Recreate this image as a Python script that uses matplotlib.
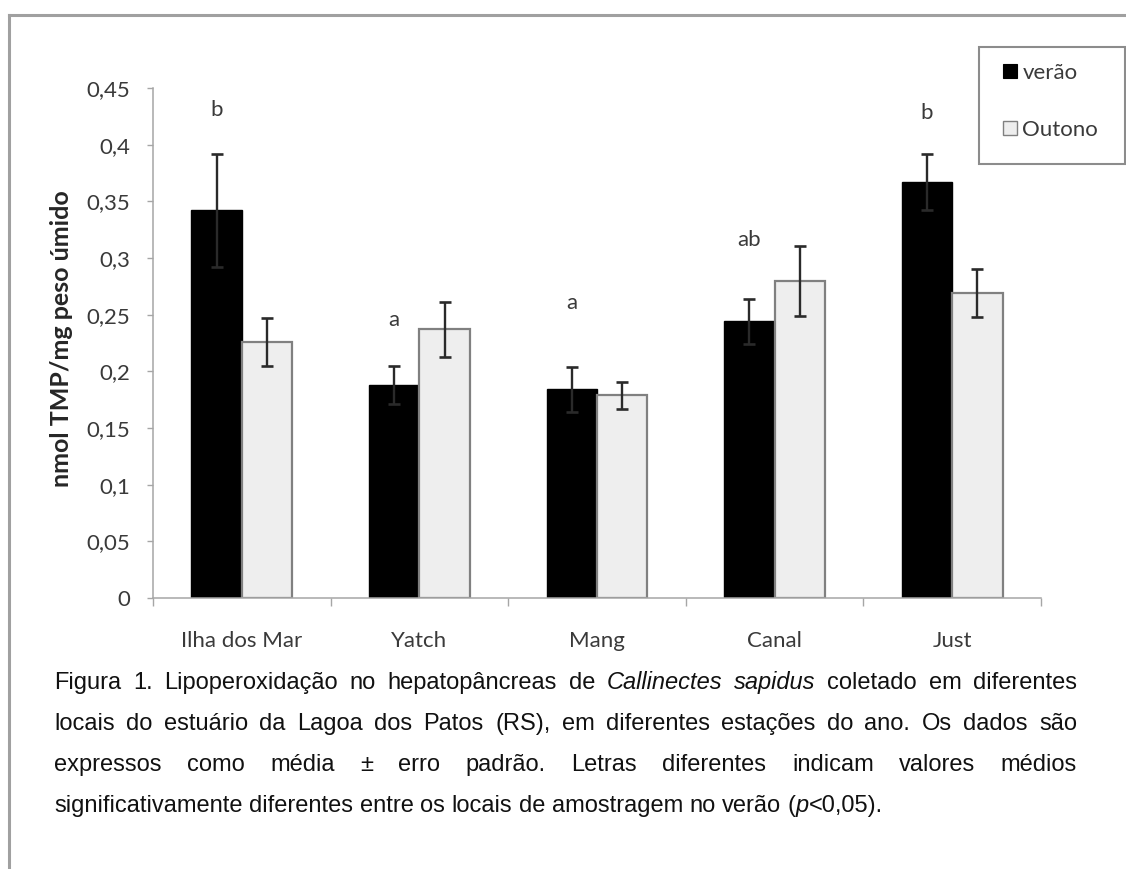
import matplotlib
matplotlib.use("Agg")
import matplotlib.pyplot as plt
import numpy as np
from matplotlib.patches import Patch, Rectangle
from matplotlib.lines import Line2D
from matplotlib.transforms import IdentityTransform

# ---------------- data ----------------
categories = ["Ilha dos Mar", "Yatch", "Mang", "Canal", "Just"]
verao = [0.342, 0.188, 0.184, 0.244, 0.367]
verao_err = [0.050, 0.017, 0.020, 0.020, 0.025]
outono = [0.226, 0.237, 0.179, 0.280, 0.269]
outono_err = [0.021, 0.024, 0.012, 0.031, 0.021]
letters = ["b", "a", "a", "ab", "b"]
letter_y = [0.431, 0.245, 0.260, 0.316, 0.428]
yticks = [0, 0.05, 0.1, 0.15, 0.2, 0.25, 0.3, 0.35, 0.4, 0.45]
ytick_labels = ["0", "0,05", "0,1", "0,15", "0,2", "0,25", "0,3", "0,35", "0,4", "0,45"]
series_labels = ["verão", "Outono"]
ylabel = "nmol TMP/mg peso úmido"
caption_lines = [
    "Figura 1. Lipoperoxidação no hepatopâncreas de *Callinectes sapidus* coletado em diferentes",
    "locais do estuário da Lagoa dos Patos (RS), em diferentes estações do ano. Os dados são",
    "expressos como média ± erro padrão. Letras diferentes indicam valores médios",
    "significativamente diferentes entre os locais de amostragem no verão (*p*<0,05).",
]

# ---------------- figure ----------------
W, H = 1126, 869
fig = plt.figure(figsize=(W / 100, H / 100), dpi=100)
fig.patch.set_facecolor("white")

ax_l, ax_r, ax_b, ax_t = 153, 1041, 598, 88
ax = fig.add_axes([ax_l / W, 1 - ax_b / H, (ax_r - ax_l) / W, (ax_b - ax_t) / H])

LBL_FONT = "Lato"
txt_col = "#3a3a3a"
axis_col = "#a6a6a6"

x = np.arange(len(categories))
bw = 0.284
ax.bar(x - bw / 2, verao, bw, color="black", edgecolor="black", linewidth=1, zorder=2)
ax.bar(x + bw / 2, outono, bw, color="#eeeeee", edgecolor="#808080", linewidth=1.6, zorder=2)
ax.errorbar(x - bw / 2, verao, yerr=verao_err, fmt="none", ecolor="#2a2a2a",
            elinewidth=1.7, capsize=4.3, capthick=1.9, zorder=3)
ax.errorbar(x + bw / 2, outono, yerr=outono_err, fmt="none", ecolor="#2a2a2a",
            elinewidth=1.7, capsize=4.3, capthick=1.9, zorder=3)

for xi, lt, ly in zip(x, letters, letter_y):
    ax.text(xi - bw / 2, ly, lt, ha="center", va="center", fontsize=16,
            family=LBL_FONT, color=txt_col)

ax.set_xlim(-0.5, len(categories) - 0.5)
ax.set_ylim(0, 0.45)
for s in ["top", "right"]:
    ax.spines[s].set_visible(False)
for s in ["left", "bottom"]:
    ax.spines[s].set_color(axis_col)
    ax.spines[s].set_linewidth(1.1)

ax.set_yticks(yticks)
ax.set_yticklabels(ytick_labels, family=LBL_FONT, fontsize=16, color=txt_col)
ax.tick_params(axis="y", direction="out", length=4.5, width=1.0, color=axis_col, pad=12)

ax.set_xticks(x)
ax.set_xticklabels(categories, family=LBL_FONT, fontsize=16, color=txt_col)
ax.tick_params(axis="x", which="major", length=0, pad=24)
ax.set_xticks(np.arange(-0.5, len(categories), 1.0), minor=True)
ax.tick_params(axis="x", which="minor", direction="out", length=6, width=1.0, color=axis_col)

fig.text(62 / W, 1 - 339 / H, ylabel, rotation=90, ha="center", va="center",
         fontsize=18, fontweight="bold", family=LBL_FONT, color="#262626")

# ---------------- legend ----------------
handles = [Patch(facecolor="black", edgecolor="black", linewidth=0.8),
           Patch(facecolor="#eeeeee", edgecolor="#808080", linewidth=1.0)]
fig.legend(handles, series_labels, loc="upper left",
           bbox_to_anchor=(1003 / W, 1 - 63 / H), frameon=False,
           prop={"family": LBL_FONT, "size": 16}, handlelength=0.62, handleheight=0.62,
           handletextpad=0.25, labelspacing=1.65, borderpad=0, borderaxespad=0,
           labelcolor=txt_col)
fig.patches.append(Rectangle((979 / W, 1 - 164 / H), (1125 - 979) / W, (164 - 47) / H,
                             transform=fig.transFigure, fill=False,
                             edgecolor="#8c8c8c", linewidth=1.5, zorder=5))

# ---------------- outer frame ----------------
fig.add_artist(Line2D([9 / W, 1], [1 - 15 / H, 1 - 15 / H], transform=fig.transFigure,
                      color="#a0a0a0", linewidth=2.2))
fig.add_artist(Line2D([9 / W, 9 / W], [0, 1 - 15 / H], transform=fig.transFigure,
                      color="#a0a0a0", linewidth=2.2))

# ---------------- justified caption ----------------
CAP_FONT = "Liberation Sans"
CAP_SIZE = 17
cap_x0, cap_x1 = 54, 1077
baselines = [689, 730, 771, 812]


def parse(line):
    words = []
    italic = False
    for w in line.split(" "):
        segs = []
        for k, p in enumerate(w.split("*")):
            if k > 0:
                italic = not italic
            if p:
                segs.append((p, italic))
        words.append(segs)
    return words


renderer = fig.canvas.get_renderer()
space_w = 0.278 * CAP_SIZE * 100 / 72
for li, (line, base) in enumerate(zip(caption_lines, baselines)):
    words = parse(line)
    objs = []
    for segs in words:
        wobjs = []
        for p, it in segs:
            t = fig.text(0, H - base, p, transform=IdentityTransform(), fontsize=CAP_SIZE,
                         family=CAP_FONT, style="italic" if it else "normal",
                         color="#111111", ha="left", va="baseline")
            wobjs.append(t)
        objs.append(wobjs)
    widths = [[t.get_window_extent(renderer).width for t in wobjs] for wobjs in objs]
    word_w = [sum(ws) for ws in widths]
    last = li == len(caption_lines) - 1
    if last:
        gap = space_w
    else:
        gap = (cap_x1 - cap_x0 - sum(word_w)) / (len(words) - 1)
    xpos = cap_x0
    for wobjs, ws in zip(objs, widths):
        xx = xpos
        for t, w in zip(wobjs, ws):
            t.set_x(xx)
            xx += w
        xpos = xx + gap

fig.savefig("out.png", dpi=100, facecolor="white")
